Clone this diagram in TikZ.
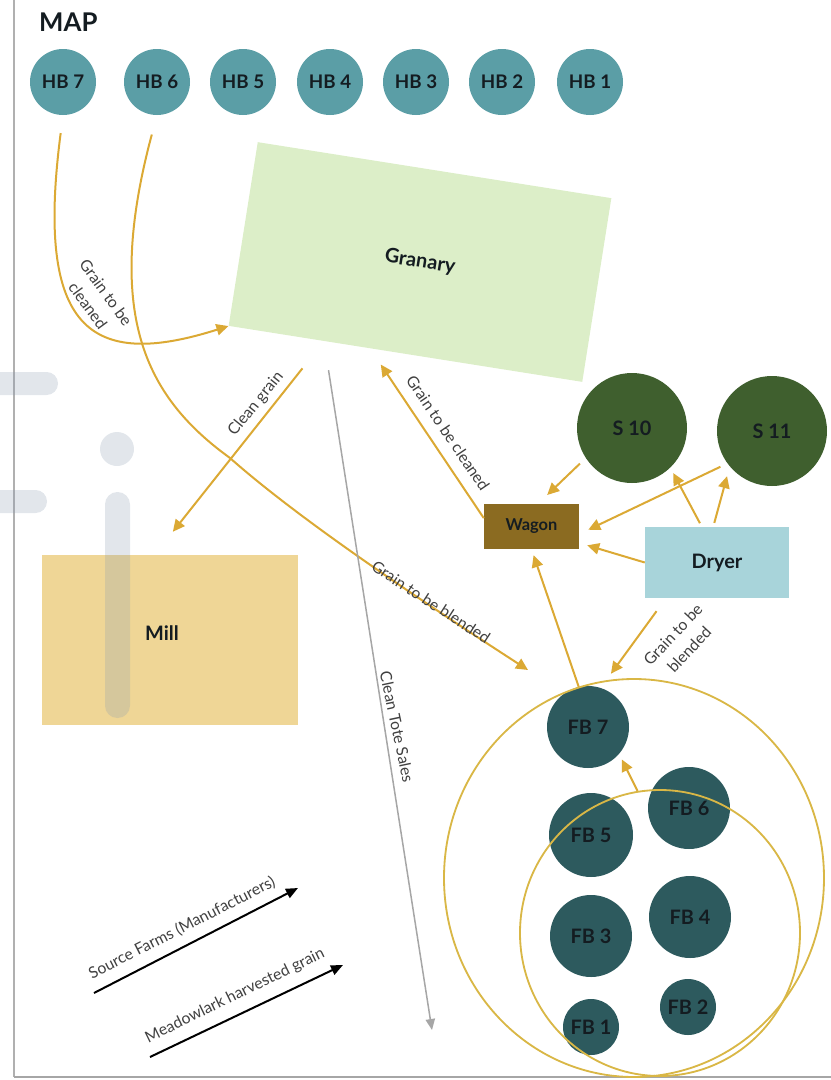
\documentclass[tikz,border=0pt]{standalone}
\usepackage{fontspec}
\setmainfont{Lato}
\usepackage{xcolor}
\usepackage{tikz}
\usetikzlibrary{arrows.meta, positioning, calc, shapes.geometric}

\definecolor{hbteal}{HTML}{5B9EA6}
\definecolor{silogreen}{HTML}{3F5F2E}
\definecolor{fbteal}{HTML}{2D5A5E}
\definecolor{granarygreen}{HTML}{DCEEC8}
\definecolor{millsand}{HTML}{EFD696}
\definecolor{wagonbrown}{HTML}{8B6B21}
\definecolor{dryerblue}{HTML}{A8D4DA}
\definecolor{flowgold}{HTML}{DBA934}
\definecolor{ringgold}{HTML}{D9B746}
\definecolor{salesgray}{HTML}{A6A6A6}
\definecolor{framegray}{HTML}{B0B0B0}
\definecolor{ink}{HTML}{141C21}
\definecolor{tagink}{HTML}{404040}
\definecolor{wmgray}{HTML}{8A9BB0}

\tikzset{
  bin/.style={circle, inner sep=0pt, text=ink, font=\fontsize{16}{18}\selectfont\bfseries},
  hb/.style={bin, fill=hbteal, minimum size=19.8mm},
  silo/.style={bin, fill=silogreen, minimum size=33mm, font=\fontsize{17}{19}\selectfont\bfseries},
  fb/.style={bin, fill=fbteal, minimum size=24.6mm, font=\fontsize{17}{19}\selectfont\bfseries},
  smallfb/.style={fb, minimum size=16.8mm},
  building/.style={rectangle, inner sep=0pt, text=ink, font=\fontsize{17}{19}\selectfont\bfseries},
  ring/.style={ellipse, draw=ringgold, line width=0.55mm, inner sep=0pt},
  flow/.style={draw=flowgold, line width=0.6mm, -{Triangle[length=3.6mm, width=3.4mm]}},
  sales/.style={draw=salesgray, line width=0.45mm, -{Triangle[length=3.3mm, width=2.8mm]}},
  source/.style={draw=black, line width=0.6mm, -{Triangle[length=3.6mm, width=3mm]}},
  tag/.style={font=\fontsize{13.5}{19}\selectfont, text=tagink, align=center, inner sep=0pt},
  watermark/.style={fill=wmgray, opacity=0.25}
}

\begin{document}
\begin{tikzpicture}[x=0.3mm, y=-0.3mm]
    \useasboundingbox (0,0) rectangle (831,1080);

    % Frame
    \draw[framegray, line width=0.4mm] (14,0) -- (14,1077);
    \draw[salesgray, line width=0.8mm] (14,1077) -- (831,1077);

    % Title
    \node[anchor=west, inner sep=0pt, text=ink, font=\fontsize{22}{24}\selectfont\bfseries] (title) at (39,22) {MAP};

    % Holding bins
    \node[hb] (hb7) at (63,82) {HB 7};
    \node[hb] (hb6) at (157,82) {HB 6};
    \node[hb] (hb5) at (243,82) {HB 5};
    \node[hb] (hb4) at (330,82) {HB 4};
    \node[hb] (hb3) at (416,82) {HB 3};
    \node[hb] (hb2) at (502,82) {HB 2};
    \node[hb] (hb1) at (590,82) {HB 1};

    % Buildings
    \node[building, fill=granarygreen, minimum width=107.4mm, minimum height=55.8mm, rotate=-9] (granary) at (420,262) {Granary};
    \node[building, fill=millsand, minimum width=76.8mm, minimum height=51mm,
          label={[building, xshift=-2.4mm, yshift=2.1mm]center:Mill}] (mill) at (170,640) {};
    \node[building, fill=wagonbrown, minimum width=28.5mm, minimum height=13.5mm, font=\fontsize{14}{16}\selectfont\bfseries] (wagon) at (531.5,526.5) {Wagon};
    \node[building, fill=dryerblue, minimum width=43.2mm, minimum height=21.3mm] (dryer) at (717,562.5) {Dryer};

    % Watermark
    \fill[watermark, rounded corners=3.4mm] (-30,372) rectangle (58,395);
    \fill[watermark, rounded corners=3.4mm] (-30,490) rectangle (47,513);
    \fill[watermark] (117,449) circle[radius=5.1mm];
    \fill[watermark, rounded corners=3.7mm] (105,492) rectangle (130,718);

    % Silos
    \node[silo] (s10) at (632,428) {S 10};
    \node[silo] (s11) at (772,431) {S 11};

    % Farm bins
    \node[fb] (fb7) at (588,727) {FB 7};
    \node[fb] (fb6) at (689,808) {FB 6};
    \node[fb, minimum size=25.2mm] (fb5) at (591,835) {FB 5};
    \node[fb] (fb4) at (690,917) {FB 4};
    \node[fb] (fb3) at (591,936) {FB 3};
    \node[smallfb] (fb2) at (688,1007) {FB 2};
    \node[smallfb] (fb1) at (591,1027) {FB 1};

    % Bin groups
    \node[ring, minimum width=114mm, minimum height=119.4mm] (fbgroup) at (634,878) {};
    \node[ring, minimum width=84mm, minimum height=85.8mm] (fbinner) at (660,933) {};

    % Grain to be cleaned
    \draw[flow, shorten <=5.4mm] (hb7.south) .. controls (35,330) and (90,370) .. (granary.south west);
    \node[tag, rotate=-54] (cleanedtag) at (97,299) {Grain to be\\cleaned};

    % Grain to be blended
    \coordinate (blendin) at (528,670);
    \draw[flow, shorten <=6mm] (hb6.south) .. controls (102,320) and (150,400) .. (230,458)
        .. controls (300,520) and (420,600) .. (blendin);
    \node[tag, rotate=-33] (blendtag) at (431,602) {Grain to be blended};

    % Granary outlet
    \coordinate (gout) at ($(granary.south west)!0.27!(granary.south east)$);
    \draw[flow, shorten <=10.4mm, shorten >=8.8mm] (gout) -- ($(mill.north west)!0.44!(mill.north east)$);
    \node[tag, rotate=51] (cleangraintag) at (256,404) {Clean grain};
    \coordinate (salesend) at (432,1030);
    \draw[sales, shorten <=8.8mm] (gout) -- (salesend);
    \node[tag, rotate=-78] (salestag) at (397,727) {Clean Tote Sales};

    % Wagon back to granary
    \draw[flow, shorten >=5.8mm] (wagon.170) -- ($(granary.south west)!0.40!(granary.south east)$);
    \node[tag, rotate=-56] (wagontag) at (448,433) {Grain to be cleaned};

    % Silos and dryer
    \draw[flow, shorten <=2.4mm, shorten >=3.8mm] (s10.213) -- (wagon.74);
    \draw[flow, shorten <=2.3mm, shorten >=3mm] (s11.216) -- (wagon.-9);
    \draw[flow, shorten <=1.2mm, shorten >=1.8mm] (dryer.113) -- (s10.-46);
    \draw[flow, shorten <=1.2mm, shorten >=3mm] (dryer.96) -- (s11.220);
    \draw[flow, shorten >=2.5mm] (dryer.west) -- (wagon.-19);

    % Farm bins
    \draw[flow, shorten >=1.9mm] (fb7.103) -- (wagon.south);
    \draw[flow, shorten <=4.8mm, shorten >=2.4mm] (dryer.215) -- (fbgroup.98);
    \node[tag, rotate=47] (dryertag) at (681,642) {Grain to be\\blended};
    \draw[flow, shorten >=1.8mm] (fbinner.99) -- (fb7.-41);

    % Sources
    \coordinate (farmsA) at (94,993);
    \coordinate (farmsB) at (298,888);
    \draw[source] (farmsA) -- (farmsB);
    \node[tag, rotate=27] (farmstag) at (182,928) {Source Farms (Manufacturers)};
    \coordinate (meadowA) at (150,1057);
    \coordinate (meadowB) at (343,965);
    \draw[source] (meadowA) -- (meadowB);
    \node[tag, rotate=26] (meadowtag) at (235,996) {Meadowlark harvested grain};
\end{tikzpicture}
\end{document}
